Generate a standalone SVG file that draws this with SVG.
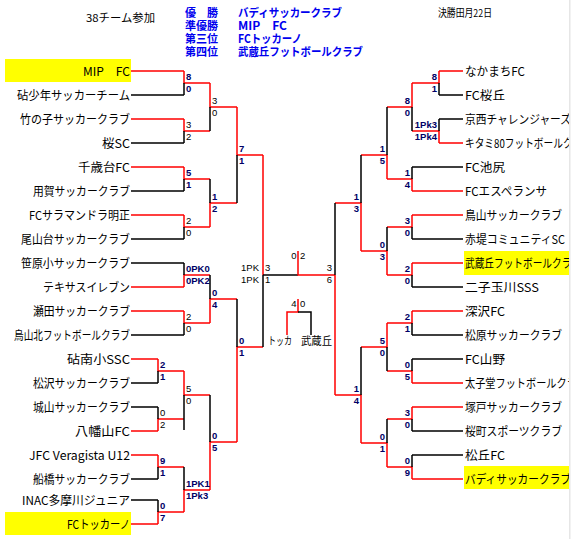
<svg xmlns="http://www.w3.org/2000/svg" width="573" height="539" viewBox="0 0 573 539">
<defs>
<style>
.r{stroke:#ff0000;stroke-width:1.5;fill:none}
.k{stroke:#000000;stroke-width:1.5;fill:none}
.t{font-family:"Noto Sans CJK JP","Liberation Sans",sans-serif;font-size:12px;fill:#000}
.s{font-family:"Liberation Sans",sans-serif;font-size:9.5px;font-weight:bold;fill:#000066}
.n{font-family:"Liberation Sans",sans-serif;font-size:9.5px;fill:#000}
.e{text-anchor:end}
.h{font-family:"Noto Sans CJK JP",sans-serif;font-size:11.5px;font-weight:bold;fill:#0000ee}
.d{font-family:"Noto Sans CJK JP",sans-serif;font-size:11px;fill:#000}
.y{fill:#ffff00}
</style>
<clipPath id="clipR"><rect x="0" y="0" width="569" height="539"/></clipPath>
</defs>
<rect x="0" y="0" width="573" height="539" fill="#ffffff"/>
<rect x="569" y="0" width="1.5" height="539" fill="#e6e6e6"/>

<g id="header">
<text class="d" x="86" y="21.5" textLength="69" lengthAdjust="spacingAndGlyphs">38チーム参加</text>
<text class="h" x="185" y="16.5" textLength="33" lengthAdjust="spacingAndGlyphs">優　勝</text>
<text class="h" x="238" y="16.5" textLength="104" lengthAdjust="spacingAndGlyphs">バディサッカークラブ</text>
<text class="h" x="185" y="29.5" textLength="33" lengthAdjust="spacingAndGlyphs">準優勝</text>
<text class="h" x="238" y="29.5" textLength="49" lengthAdjust="spacingAndGlyphs">MIP　FC</text>
<text class="h" x="185" y="42.5" textLength="33" lengthAdjust="spacingAndGlyphs">第三位</text>
<text class="h" x="238" y="42.5" textLength="64" lengthAdjust="spacingAndGlyphs">FCトッカーノ</text>
<text class="h" x="185" y="55.5" textLength="33" lengthAdjust="spacingAndGlyphs">第四位</text>
<text class="h" x="238" y="55.5" textLength="125" lengthAdjust="spacingAndGlyphs">武蔵丘フットボールクラブ</text>
<text class="d" x="438" y="17" textLength="54" lengthAdjust="spacingAndGlyphs">決勝田月22日</text>
</g>

<g id="connectors">
<!-- left team lead lines -->
<path class="r" d="M131 71H184M131 119H184M131 167H184M131 215H184M131 287H184M131 311H184M131 359H158M131 431H158M131 455H158M131 524H158"/>
<path class="k" d="M131 95H184M131 143H184M131 191H184M131 239H184M131 263H184M131 335H184M131 383H158M131 407H158M131 479H158M131 500H158"/>
<!-- left junctions -->
<path class="r" d="M184 71V83H210M184 119V131H210M184 167V179H210M184 215V227H210M184 287V275H210M184 311V323H210"/>
<path class="k" d="M184 83V95M184 131V143M184 179V191M184 227V239M184 263V275M184 323V335"/>
<path class="r" d="M158 359V371H184M158 431V419H184M158 455V467H184M158 524V512H184"/>
<path class="k" d="M158 371V383M158 407V419M158 467V479M158 500V512"/>
<path class="r" d="M210 83V107H237M210 227V203H237M210 323V299H237M184 371V395H210M184 512V490H210M210 490V442H237"/>
<path class="k" d="M210 107V131M210 179V203M210 275V299M184 395V430M184 467V490M210 395V442"/>
<path class="r" d="M237 107V155H263M237 442V347H263M263 155V275"/>
<path class="k" d="M237 155V203M237 299V347M263 275V347M263 275H298"/>
<!-- final and third place -->
<path class="r" d="M298 251V275H335M298 299V312H287V335"/>
<path class="k" d="M298 312H311V335"/>
<!-- right team lead lines -->
<path class="r" d="M439 71H463M439 143H463M412 191H463M412 215H463M412 263H463M412 311H463M412 383H463M412 407H463M412 479H463"/>
<path class="k" d="M439 95H463M439 119H463M412 167H463M412 239H463M412 287H463M412 335H463M412 359H463M412 431H463M412 455H463"/>
<!-- right junctions -->
<path class="r" d="M439 71V83H412M439 143V131H412M412 83V107H387M412 191V179H387M387 179V155H361M412 215V227H387M412 263V275H387M387 275V251H361M361 251V203H335"/>
<path class="k" d="M439 83V95M439 119V131M412 107V131M412 167V179M387 107V155M412 227V239M412 275V287M387 227V251M361 155V203"/>
<path class="r" d="M412 311V323H387M412 383V371H387M387 323V347H361M412 407V419H387M412 479V467H387M387 467V443H361M361 443V395H335M335 395V275"/>
<path class="k" d="M412 323V335M412 359V371M387 347V371M412 419V431M412 455V467M387 419V443M361 347V395M335 203V275"/>
</g>

<g id="scores">
<text class="s" x="186" y="79.5">8</text><text class="s" x="186" y="91.5">0</text>
<text class="n" x="186" y="127.5">3</text><text class="n" x="186" y="139.5">2</text>
<text class="s" x="186" y="175.5">5</text><text class="s" x="186" y="187.5">1</text>
<text class="n" x="186" y="223.5">2</text><text class="n" x="186" y="235.5">0</text>
<text class="s" x="186" y="271.5">0PK0</text><text class="s" x="186" y="283.5">0PK2</text>
<text class="n" x="186" y="319.5">2</text><text class="n" x="186" y="331.5">0</text>
<text class="s" x="160" y="367.5">2</text><text class="s" x="160" y="379.5">1</text>
<text class="n" x="160" y="415.5">0</text><text class="n" x="160" y="427.5">2</text>
<text class="s" x="160" y="463.5">9</text><text class="s" x="160" y="475.5">1</text>
<text class="s" x="160" y="508.5">0</text><text class="s" x="160" y="520.5">7</text>
<text class="n" x="212" y="103.5">3</text><text class="n" x="212" y="115.5">0</text>
<text class="s" x="212" y="199.5">1</text><text class="s" x="212" y="211.5">2</text>
<text class="s" x="212" y="295.5">0</text><text class="s" x="212" y="307.5">4</text>
<text class="n" x="186" y="391.5">5</text><text class="n" x="186" y="403.5">0</text>
<text class="s" x="186" y="486.5">1PK1</text><text class="s" x="186" y="498.5">1Pk3</text>
<text class="s" x="212" y="438.5">0</text><text class="s" x="212" y="450.5">5</text>
<text class="s" x="239" y="151.5">7</text><text class="s" x="239" y="163.5">1</text>
<text class="s" x="239" y="343.5">0</text><text class="s" x="239" y="355.5">1</text>
<text class="n e" x="259" y="271">1PK</text><text class="n" x="265" y="271">3</text>
<text class="n e" x="259" y="282.5">1PK</text><text class="n" x="265" y="282.5">1</text>
<text class="n e" x="296.5" y="259">0</text><text class="n" x="300" y="259">2</text>
<text class="n e" x="296.5" y="307">4</text><text class="n" x="300" y="307">0</text>
<text class="n e" x="332" y="271">3</text><text class="n e" x="332" y="283">6</text>
<text class="s e" x="437" y="79.5">8</text><text class="s e" x="437" y="91.5">1</text>
<text class="s e" x="437" y="127.5">1Pk3</text><text class="s e" x="437" y="139.5">1Pk4</text>
<text class="s e" x="410" y="103.5">8</text><text class="s e" x="410" y="115.5">0</text>
<text class="s e" x="410" y="175.5">1</text><text class="s e" x="410" y="187.5">4</text>
<text class="s e" x="385" y="151.5">1</text><text class="s e" x="385" y="163.5">5</text>
<text class="s e" x="410" y="223.5">3</text><text class="s e" x="410" y="235.5">0</text>
<text class="s e" x="410" y="271.5">2</text><text class="s e" x="410" y="283.5">0</text>
<text class="s e" x="385" y="247.5">0</text><text class="s e" x="385" y="259.5">3</text>
<text class="s e" x="359" y="199.5">1</text><text class="s e" x="359" y="211.5">3</text>
<text class="s e" x="410" y="319.5">2</text><text class="s e" x="410" y="331.5">1</text>
<text class="s e" x="410" y="367.5">0</text><text class="s e" x="410" y="379.5">5</text>
<text class="s e" x="385" y="343.5">5</text><text class="s e" x="385" y="355.5">0</text>
<text class="s e" x="410" y="415.5">3</text><text class="s e" x="410" y="427.5">0</text>
<text class="s e" x="410" y="463.5">0</text><text class="s e" x="410" y="475.5">9</text>
<text class="s e" x="385" y="439.5">0</text><text class="s e" x="385" y="451.5">1</text>
<text class="s e" x="359" y="391.5">1</text><text class="s e" x="359" y="403.5">4</text>
</g>

<g id="third-place-labels">
<text class="d" x="268" y="345" textLength="24" lengthAdjust="spacingAndGlyphs">トッカ</text>
<text class="d" x="301" y="345" textLength="31" lengthAdjust="spacingAndGlyphs">武蔵丘</text>
</g>

<g id="left-teams">
<g id="team-l1"><rect class="y" x="5" y="59" width="126" height="23"/><text class="t" x="83" y="75.5" textLength="47" lengthAdjust="spacingAndGlyphs">MIP　FC</text></g>
<g id="team-l2"><text class="t" x="17" y="99.5" textLength="113" lengthAdjust="spacingAndGlyphs">砧少年サッカーチーム</text></g>
<g id="team-l3"><text class="t" x="20" y="123.5" textLength="110" lengthAdjust="spacingAndGlyphs">竹の子サッカークラブ</text></g>
<g id="team-l4"><text class="t" x="102" y="147.5" textLength="28" lengthAdjust="spacingAndGlyphs">桜SC</text></g>
<g id="team-l5"><text class="t" x="78" y="171.5" textLength="52" lengthAdjust="spacingAndGlyphs">千歳台FC</text></g>
<g id="team-l6"><text class="t" x="33" y="195.5" textLength="97" lengthAdjust="spacingAndGlyphs">用賀サッカークラブ</text></g>
<g id="team-l7"><text class="t" x="29" y="219.5" textLength="101" lengthAdjust="spacingAndGlyphs">FCサラマンドラ明正</text></g>
<g id="team-l8"><text class="t" x="21" y="243.5" textLength="109" lengthAdjust="spacingAndGlyphs">尾山台サッカークラブ</text></g>
<g id="team-l9"><text class="t" x="21" y="267.5" textLength="109" lengthAdjust="spacingAndGlyphs">笹原小サッカークラブ</text></g>
<g id="team-l10"><text class="t" x="43" y="291.5" textLength="87" lengthAdjust="spacingAndGlyphs">テキサスイレブン</text></g>
<g id="team-l11"><text class="t" x="33" y="315.5" textLength="97" lengthAdjust="spacingAndGlyphs">瀬田サッカークラブ</text></g>
<g id="team-l12"><text class="t" x="14" y="339.5" textLength="116" lengthAdjust="spacingAndGlyphs">烏山北フットボールクラブ</text></g>
<g id="team-l13"><text class="t" x="67" y="363.5" textLength="63" lengthAdjust="spacingAndGlyphs">砧南小SSC</text></g>
<g id="team-l14"><text class="t" x="33" y="387.5" textLength="97" lengthAdjust="spacingAndGlyphs">松沢サッカークラブ</text></g>
<g id="team-l15"><text class="t" x="33" y="411.5" textLength="97" lengthAdjust="spacingAndGlyphs">城山サッカークラブ</text></g>
<g id="team-l16"><text class="t" x="75" y="435.5" textLength="55" lengthAdjust="spacingAndGlyphs">八幡山FC</text></g>
<g id="team-l17"><text class="t" x="29" y="459.5" textLength="101" lengthAdjust="spacingAndGlyphs">JFC Veragista U12</text></g>
<g id="team-l18"><text class="t" x="33" y="483.5" textLength="97" lengthAdjust="spacingAndGlyphs">船橋サッカークラブ</text></g>
<g id="team-l19"><text class="t" x="22" y="504.5" textLength="108" lengthAdjust="spacingAndGlyphs">INAC多摩川ジュニア</text></g>
<g id="team-l20"><rect class="y" x="5" y="512" width="126" height="23"/><text class="t" x="67" y="528.5" textLength="63" lengthAdjust="spacingAndGlyphs">FCトッカーノ</text></g>
</g>

<g id="right-teams" clip-path="url(#clipR)">
<g id="team-r1"><text class="t" x="465" y="75.5" textLength="60" lengthAdjust="spacingAndGlyphs">なかまちFC</text></g>
<g id="team-r2"><text class="t" x="465" y="99.5" textLength="40" lengthAdjust="spacingAndGlyphs">FC桜丘</text></g>
<g id="team-r3"><text class="t" x="465" y="123.5" textLength="106" lengthAdjust="spacingAndGlyphs">京西チャレンジャーズ</text></g>
<g id="team-r4"><text class="t" x="465" y="147.5" textLength="127" lengthAdjust="spacingAndGlyphs">キタミ80フットボールクラブ</text></g>
<g id="team-r5"><text class="t" x="465" y="171.5" textLength="40" lengthAdjust="spacingAndGlyphs">FC池尻</text></g>
<g id="team-r6"><text class="t" x="465" y="195.5" textLength="82" lengthAdjust="spacingAndGlyphs">FCエスペランサ</text></g>
<g id="team-r7"><text class="t" x="465" y="219.5" textLength="97" lengthAdjust="spacingAndGlyphs">鳥山サッカークラブ</text></g>
<g id="team-r8"><text class="t" x="465" y="243.5" textLength="100" lengthAdjust="spacingAndGlyphs">赤堤コミュニティSC</text></g>
<g id="team-r9"><rect class="y" x="464" y="251" width="105" height="24"/><text class="t" x="465" y="267.5" textLength="116" lengthAdjust="spacingAndGlyphs">武蔵丘フットボールクラブ</text></g>
<g id="team-r10"><text class="t" x="465" y="291.5" textLength="74" lengthAdjust="spacingAndGlyphs">二子玉川SSS</text></g>
<g id="team-r11"><text class="t" x="465" y="315.5" textLength="40" lengthAdjust="spacingAndGlyphs">深沢FC</text></g>
<g id="team-r12"><text class="t" x="465" y="339.5" textLength="97" lengthAdjust="spacingAndGlyphs">松原サッカークラブ</text></g>
<g id="team-r13"><text class="t" x="465" y="363.5" textLength="40" lengthAdjust="spacingAndGlyphs">FC山野</text></g>
<g id="team-r14"><text class="t" x="465" y="387.5" textLength="122" lengthAdjust="spacingAndGlyphs">太子堂フットボールクラブ</text></g>
<g id="team-r15"><text class="t" x="465" y="411.5" textLength="97" lengthAdjust="spacingAndGlyphs">塚戸サッカークラブ</text></g>
<g id="team-r16"><text class="t" x="465" y="435.5" textLength="97" lengthAdjust="spacingAndGlyphs">桜町スポーツクラブ</text></g>
<g id="team-r17"><text class="t" x="465" y="459.5" textLength="40" lengthAdjust="spacingAndGlyphs">松丘FC</text></g>
<g id="team-r18"><rect class="y" x="464" y="466" width="105" height="23"/><text class="t" x="465" y="483.5" textLength="106" lengthAdjust="spacingAndGlyphs">バディサッカークラブ</text></g>
</g>
</svg>
